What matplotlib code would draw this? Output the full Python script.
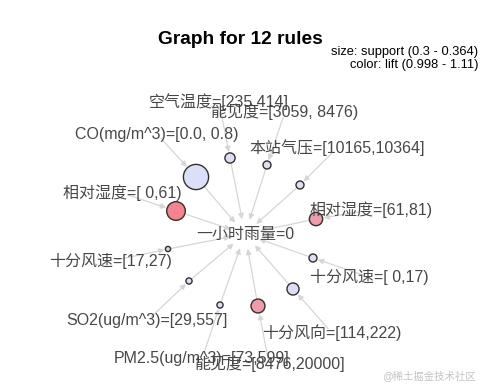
import numpy as np
import matplotlib
matplotlib.use("Agg")
import matplotlib.pyplot as plt
from matplotlib.patches import Circle, FancyArrowPatch
from matplotlib.colors import LinearSegmentedColormap

plt.rcParams['font.family'] = ['Liberation Sans', 'Noto Sans CJK SC', 'DejaVu Sans']

# ---- rules: LHS item => 一小时雨量=0 ----
lhs_items = [
    "空气温度=[235,414]",
    "能见度=[3059, 8476)",
    "CO(mg/m^3)=[0.0, 0.8)",
    "本站气压=[10165,10364]",
    "相对湿度=[ 0,61)",
    "相对湿度=[61,81)",
    "十分风速=[17,27)",
    "十分风速=[ 0,17)",
    "SO2(ug/m^3)=[29,557]",
    "十分风向=[114,222)",
    "PM2.5(ug/m^3)=[73,599]",
    "能见度=[8476,20000]",
]
rhs_item = "一小时雨量=0"
support = [0.316, 0.309, 0.364, 0.309, 0.343, 0.326,
           0.300, 0.309, 0.303, 0.322, 0.303, 0.328]
lift = [1.00, 1.00, 0.998, 1.00, 1.11, 1.08,
        1.02, 1.00, 1.00, 1.00, 1.00, 1.08]

# ---- graph layout (canvas pixel coordinates) ----
item_pos = [(219, 102), (285, 112), (157, 134), (337, 148), (122, 193), (371, 210),
            (111, 261), (369, 277), (147, 321), (332, 333), (202, 359), (269, 364)]
rule_pos = [(230, 158), (267, 165), (196, 177), (300, 185), (176, 211), (316, 219),
            (168, 249), (313, 258), (189, 281), (293, 289), (220, 305), (258, 306)]
rhs_pos = (245, 234)

W, H = 484, 388
fig = plt.figure(figsize=(W / 100, H / 100), dpi=100)
ax = fig.add_axes([0, 0, 1, 1])
ax.set_xlim(0, W)
ax.set_ylim(H, 0)
ax.set_aspect('equal')
ax.axis('off')

cmap = LinearSegmentedColormap.from_list("lift", ["#dcdff9", "#f4848f"])
smin, smax = min(support), max(support)
lmin, lmax = min(lift), max(lift)
radii = [2.6 + (s - smin) / (smax - smin) * 10.0 for s in support]

edge_col = "#d6d6d6"
text_col = "#474747"


def arrow(p0, p1, cut0, cut1):
    p0, p1 = np.array(p0, float), np.array(p1, float)
    d = p1 - p0
    u = d / np.hypot(*d)
    a = p0 + u * cut0
    b = p1 - u * cut1
    ax.add_patch(FancyArrowPatch(a, b, arrowstyle='-|>', mutation_scale=8,
                                 color=edge_col, lw=0.9, shrinkA=0, shrinkB=0,
                                 zorder=1))


for ip, rp, r in zip(item_pos, rule_pos, radii):
    arrow(ip, rp, 6, r + 1)
    arrow(rp, rhs_pos, r + 1, 15)

for rp, r, lf in zip(rule_pos, radii, lift):
    col = cmap((lf - lmin) / (lmax - lmin))
    ax.add_patch(Circle(rp, r, facecolor=col, edgecolor="#33302a", lw=1.0, zorder=3))

for ip, lab in zip(item_pos, lhs_items):
    ax.text(ip[0], ip[1], lab, ha='center', va='center', fontsize=11.5,
            color=text_col, zorder=4)
ax.text(rhs_pos[0], rhs_pos[1], rhs_item, ha='center', va='center', fontsize=11.5,
        color=text_col, zorder=4)

ax.text(240, 40, "Graph for 12 rules", ha='center', va='center', fontsize=13.8,
        fontweight='bold', color='black')
ax.text(478, 52, f"size: support ({smin:g} - {smax:g})", ha='right', va='center',
        fontsize=9.3, color='black')
ax.text(478, 65, f"color: lift ({lmin:g} - {lmax:g})", ha='right', va='center',
        fontsize=9.3, color='black')

ax.text(476, 376, "@稀土掘金技术社区", ha='right', va='center', fontsize=7.5,
        color='#c4c4c4')

fig.savefig("out.png", dpi=100)
